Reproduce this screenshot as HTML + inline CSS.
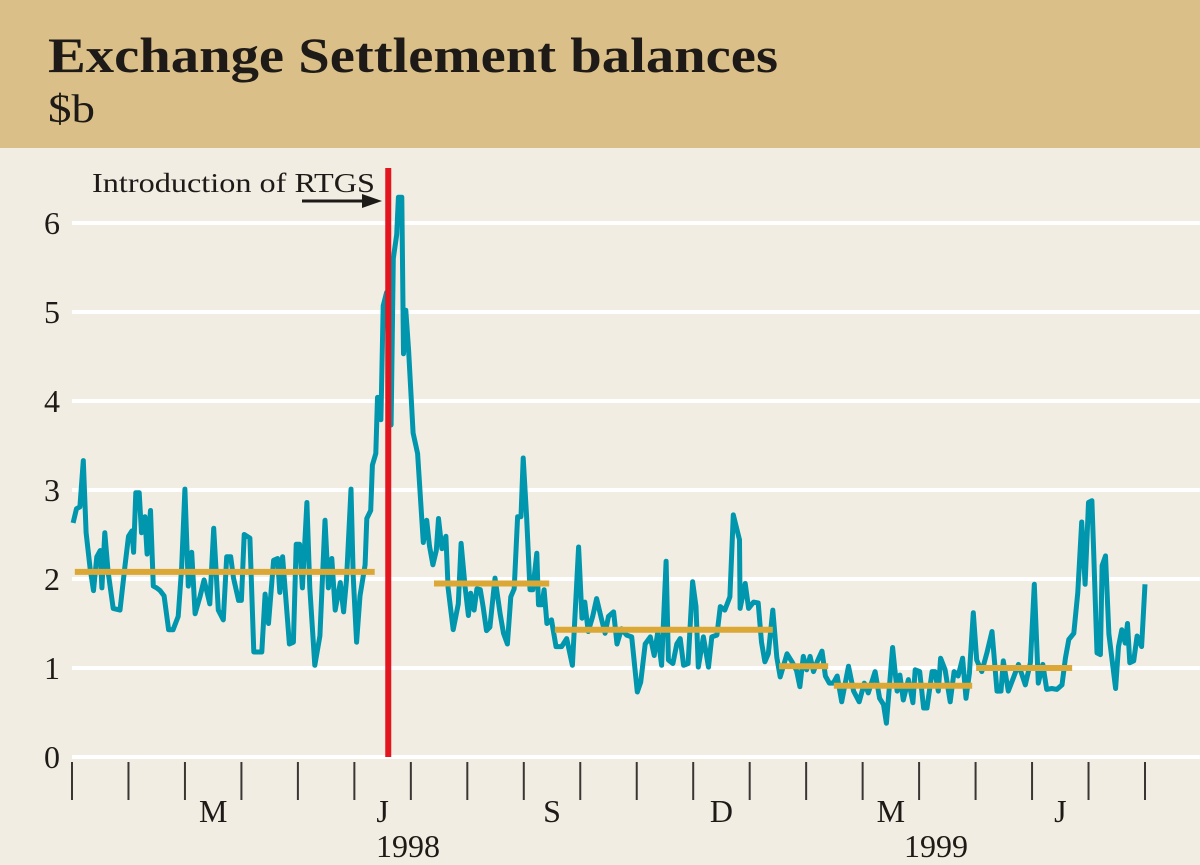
<!DOCTYPE html>
<html><head><meta charset="utf-8"><style>
html,body{margin:0;padding:0;width:1200px;height:865px;overflow:hidden;background:#f2ede3;font-family:"Liberation Serif",serif;}
svg{display:block}
</style></head><body>
<svg width="1200" height="865" viewBox="0 0 1200 865" id="chart">
<rect x="0" y="0" width="1200" height="148" fill="#dbbf88"/>
<text x="48" y="72" font-size="50" font-weight="bold" fill="#1e1a17" textLength="730" lengthAdjust="spacingAndGlyphs" font-family="Liberation Serif, serif">Exchange Settlement balances</text>
<text x="48" y="122" font-size="40" fill="#1e1a17" textLength="47" lengthAdjust="spacingAndGlyphs" font-family="Liberation Serif, serif">$b</text>
<g id="grid"></g><g id="axis"></g><g id="series"></g><g id="avgs"></g><g id="annot"></g>
</svg>
<script>
const months = [0.02,0.08,0.14,0.20,0.25,0.32,0.38,0.44,0.50,0.53,0.58,0.64,0.73,0.85,0.94,1.00,1.06,1.09,1.13,1.19,1.23,1.29,1.33,1.39,1.44,1.50,1.56,1.63,1.71,1.79,1.88,1.94,2.00,2.06,2.12,2.18,2.27,2.34,2.44,2.51,2.59,2.68,2.74,2.81,2.86,2.95,3.00,3.05,3.15,3.22,3.36,3.42,3.48,3.57,3.64,3.68,3.73,3.79,3.85,3.92,3.97,4.03,4.08,4.16,4.21,4.30,4.39,4.48,4.54,4.60,4.66,4.75,4.81,4.86,4.94,4.98,5.04,5.10,5.19,5.22,5.29,5.32,5.38,5.41,5.47,5.51,5.57,5.65,5.69,5.75,5.78,5.84,5.87,5.91,5.96,6.04,6.12,6.22,6.28,6.33,6.39,6.45,6.49,6.55,6.62,6.66,6.75,6.84,
6.89,6.96,7.02,7.06,7.12,7.17,7.23,7.28,7.34,7.40,7.49,7.58,7.64,7.71,7.77,7.83,7.89,7.95,7.99,8.05,8.11,8.16,8.23,8.26,8.32,8.36,8.41,8.49,8.57,8.67,8.76,8.86,8.97,9.03,9.08,9.14,9.22,9.29,9.38,9.44,9.50,9.59,9.65,9.73,9.82,9.91,10.01,10.07,10.15,10.24,10.31,10.37,10.44,10.52,10.56,10.64,10.71,10.77,10.83,10.91,10.99,11.05,11.09,11.18,11.27,11.33,11.42,11.48,11.56,11.65,11.71,11.82,11.83,11.92,11.98,12.07,12.15,12.21,12.27,12.33,12.41,12.48,12.54,12.66,12.75,12.83,
12.89,12.95,13.01,13.07,13.13,13.20,13.28,13.34,13.41,13.48,13.55,13.63,13.75,13.84,13.94,14.03,14.10,14.22,14.30,14.37,14.42,14.53,14.61,14.66,14.72,14.81,14.89,14.93,15.01,15.08,15.14,15.23,15.28,15.34,15.38,15.46,15.55,15.62,15.69,15.77,15.83,15.89,15.96,16.02,16.11,16.20,16.29,16.38,16.45,16.49,16.58,16.67,16.76,16.88,16.97,17.04,17.11,17.19,17.26,17.35,17.44,17.53,17.59,17.65,17.74,17.81,17.88,17.94,18.00,18.06,18.09,18.15,18.21,18.24,18.30,18.36,18.48,18.53,18.59,18.65,18.69,18.73,18.80,18.86,18.94,19.00];
const balances = [2.63,2.79,2.81,3.33,2.52,2.12,1.87,2.25,2.32,1.9,2.52,2.08,1.67,1.65,2.16,2.48,2.54,2.3,2.97,2.97,2.52,2.7,2.28,2.77,1.92,1.9,1.87,1.81,1.43,1.43,1.58,2.12,3.01,1.92,2.3,1.61,1.81,1.99,1.72,2.57,1.65,1.54,2.25,2.25,2.01,1.76,1.76,2.5,2.46,1.18,1.18,1.83,1.5,2.21,2.23,1.85,2.25,1.76,1.27,1.29,2.39,2.39,1.9,2.86,1.9,1.03,1.36,2.66,1.9,2.23,1.65,1.96,1.63,1.99,3.01,2.03,1.29,1.81,2.16,2.68,2.77,3.28,3.41,4.04,3.79,5.07,5.22,3.73,5.6,5.87,6.29,6.29,4.53,5.02,4.57,3.64,3.41,2.41,2.66,2.37,2.16,2.32,2.68,2.34,2.48,1.9,1.43,1.72,
2.40,1.91,1.59,1.84,1.65,1.89,1.88,1.69,1.42,1.46,2.01,1.61,1.39,1.27,1.80,1.89,2.70,2.70,3.36,2.70,1.88,1.88,2.29,1.71,1.71,1.88,1.50,1.54,1.24,1.24,1.33,1.03,2.36,1.56,1.74,1.41,1.58,1.78,1.54,1.39,1.58,1.63,1.27,1.44,1.37,1.35,0.73,0.84,1.27,1.35,1.14,1.39,1.03,2.20,1.09,1.05,1.27,1.33,1.03,1.05,1.97,1.69,1.01,1.35,1.01,1.35,1.37,1.69,1.65,1.80,2.72,2.44,1.67,1.95,1.67,1.74,1.73,1.29,1.07,1.16,1.65,1.12,0.90,1.16,1.07,0.97,
0.79,1.13,0.98,1.13,0.96,1.08,1.19,0.91,0.83,0.83,0.91,0.62,1.02,0.74,0.62,0.83,0.72,0.96,0.66,0.59,0.38,1.23,0.74,0.92,0.64,0.87,0.61,0.98,0.96,0.55,0.55,0.96,0.96,0.74,1.11,0.98,0.62,0.96,0.91,1.11,0.66,0.94,1.62,1.09,0.96,1.17,1.41,0.74,0.74,1.08,0.74,0.89,1.04,0.81,1.06,1.94,0.83,1.04,0.76,0.77,0.76,0.81,1.11,1.32,1.39,1.85,2.64,1.94,2.86,2.88,2.33,1.17,1.15,2.15,2.26,1.38,0.77,1.24,1.43,1.28,1.50,1.06,1.08,1.36,1.24,1.94];
const avgValues = [2.08,1.95,1.43,1.02,0.80,1.00];
const avgStarts = [0.05,6.41,8.55,12.52,13.49,16.01];
const avgEnds = [5.36,8.45,12.41,13.39,15.94,17.71];
const yTicks = [0,1,2,3,4,5,6];
const monthLabels = ["M","J","S","D","M","J"];
const monthLabelPos = [2.5,5.5,8.5,11.5,14.5,17.5];
const yearLabels = ["1998","1999"];
const yearLabelPos = [5.95,15.3];
const rtgsMonth = 5.6;

const NS="http://www.w3.org/2000/svg";
const X0=72,X1=1145,Y0=757,PERUNIT=89;
function xS(m){return X0+m*(X1-X0)/19;}
function yS(v){return Y0-v*PERUNIT;}
function mk(tag,attrs,parent){const e=document.createElementNS(NS,tag);for(const k in attrs)e.setAttribute(k,attrs[k]);parent.appendChild(e);return e;}
const grid=document.getElementById('grid'),axis=document.getElementById('axis'),avgs=document.getElementById('avgs'),series=document.getElementById('series'),annot=document.getElementById('annot');
yTicks.forEach(t=>{
  const l=mk('line',{x1:X0,x2:1200,y1:yS(t),y2:yS(t),stroke:'#ffffff','stroke-width':4},grid);
  
  
  const tx=mk('text',{x:60,y:yS(t)+11,'font-size':32,'text-anchor':'end',fill:'#1e1a17','font-family':'Liberation Serif, serif'},axis);
  tx.textContent=t;
  
  
});
for(let i=0;i<=19;i++){
  const l=mk('line',{x1:xS(i),x2:xS(i),y1:762,y2:800,stroke:'#3a3633','stroke-width':2},axis);
  
  
}
monthLabels.forEach((m,i)=>{
  const t=mk('text',{x:xS(monthLabelPos[i]),y:822,'font-size':32,'text-anchor':'middle',fill:'#1e1a17','font-family':'Liberation Serif, serif'},axis);
  t.textContent=m;
  
  
});
yearLabels.forEach((m,i)=>{
  const t=mk('text',{x:xS(yearLabelPos[i]),y:857,'font-size':32,'text-anchor':'middle',fill:'#1e1a17','font-family':'Liberation Serif, serif'},axis);
  t.textContent=m;
  
  
});
const pts=months.map((m,i)=>xS(m).toFixed(1)+','+yS(balances[i]).toFixed(1)).join(' ');
const pl=mk('polyline',{points:pts,fill:'none',stroke:'#0096ad','stroke-width':5,'stroke-linejoin':'round'},series);


avgValues.forEach((v,i)=>{
  const l=mk('line',{x1:xS(avgStarts[i]),x2:xS(avgEnds[i]),y1:yS(v),y2:yS(v),stroke:'#dba735','stroke-width':6},avgs);
  
  
});
const rl=mk('line',{x1:xS(rtgsMonth),x2:xS(rtgsMonth),y1:168,y2:Y0,stroke:'#e3161f','stroke-width':6},annot);


const at=mk('text',{x:92,y:192,'font-size':27,fill:'#1e1a17',textLength:283,lengthAdjust:'spacingAndGlyphs','font-family':'Liberation Serif, serif'},annot);
at.textContent='Introduction of RTGS';


const ar=mk('line',{x1:302,x2:366,y1:201,y2:201,stroke:'#1e1a17','stroke-width':3},annot);


const ah=mk('polygon',{points:'362,194 382,201 362,208',fill:'#1e1a17'},annot);


</script>
</body></html>
